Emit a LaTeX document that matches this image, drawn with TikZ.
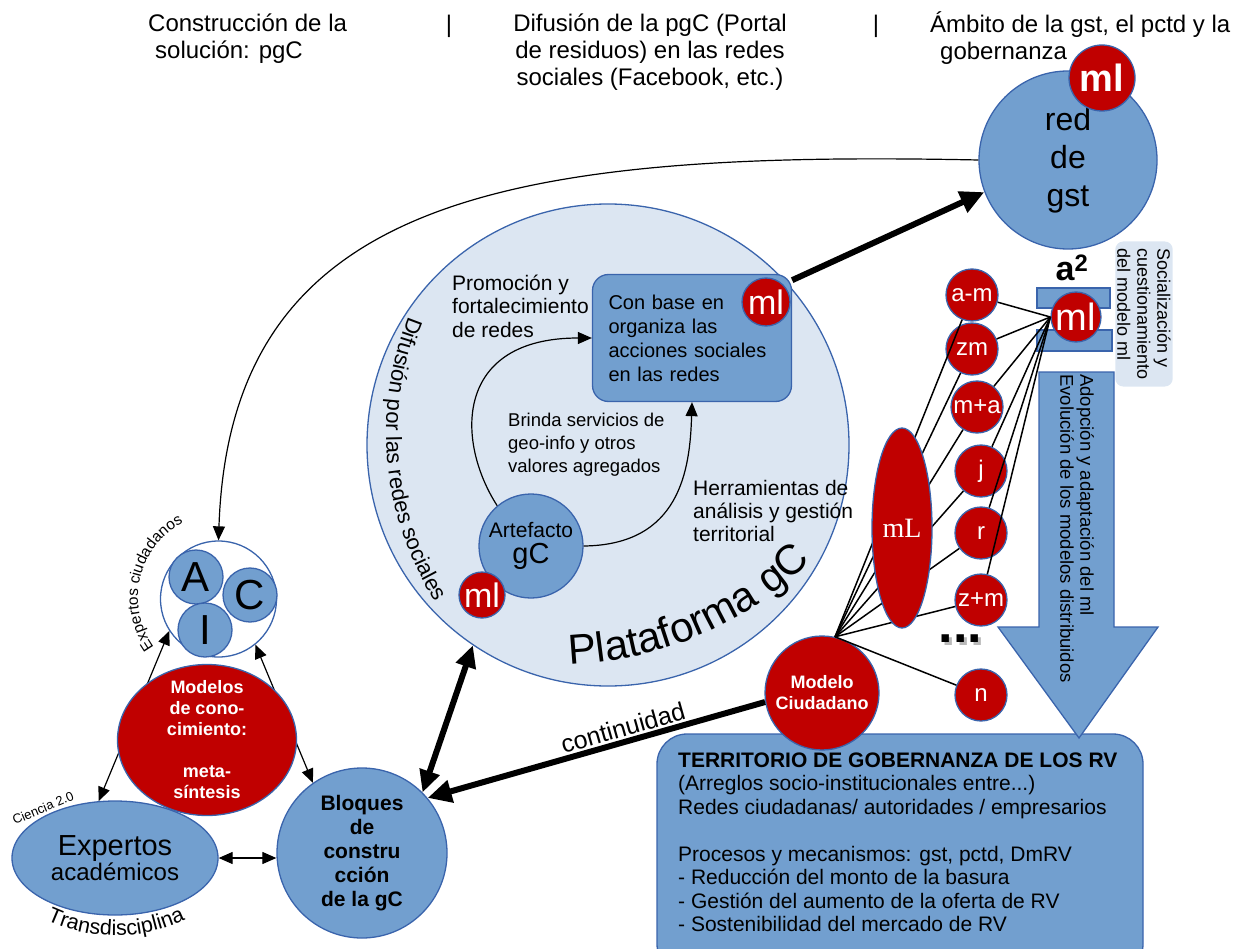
\documentclass[tikz,border=0pt]{standalone}
\usepackage{fontspec}
\setmainfont{Liberation Sans}
\newfontfamily\serifml{Liberation Serif}
\usetikzlibrary{shapes, arrows.meta, decorations.text}
\definecolor{mid}{RGB}{114, 159, 207}
\definecolor{edge}{RGB}{58, 100, 172}
\definecolor{pale}{RGB}{220, 230, 242}
\definecolor{dark}{RGB}{192, 0, 0}
\newcommand*{\fsz}[2]{\fontsize{#1}{#2}\selectfont}
\newcommand*{\lw}{1.3}

\begin{document}
\begin{tikzpicture}[
   x=1pt, y=1pt,
   bluecirc/.style={circle, draw=edge, fill=mid, line width=\lw, text=black,
                    inner sep=0, minimum size=#1},
   redcirc/.style={circle, draw=edge, fill=dark, line width=\lw, text=white,
                   inner sep=0, minimum size=#1},
   palecirc/.style={circle, draw=edge, fill=pale, line width=\lw,
                    inner sep=0, minimum size=#1},
   whitecirc/.style={circle, draw=edge, fill=white, line width=\lw,
                     inner sep=0, minimum size=#1},
   blueell/.style={ellipse, draw=edge, fill=mid, line width=\lw, text=black, inner sep=0},
   redell/.style={ellipse, draw=edge, fill=dark, line width=\lw, text=white, inner sep=0},
   bluebox/.style={rectangle, rounded corners=16, draw=edge, fill=mid, line width=\lw,
                   inner sep=0},
   bluebar/.style={draw=edge, fill=mid, line width=\lw},
   txt/.style={inner sep=0, align=left, text=black},
   thinarrow/.style={-{Triangle[length=14pt, width=12pt]}, line width=1.2},
   thinboth/.style={{Triangle[length=14pt, width=12pt]}-{Triangle[length=14pt, width=12pt]},
                    line width=1.2},
   fatarrow/.style={-{Triangle[length=24pt, width=22pt]}, line width=6},
   fatboth/.style={{Triangle[length=22pt, width=20pt]}-{Triangle[length=22pt, width=20pt]},
                   line width=6},
   fanline/.style={line width=1.5}
  ]

  \useasboundingbox (0, 0) rectangle (1238, -949);

  % Column titles
  \node (colsol) at (148, -38.5) [txt, anchor=west, font=\fsz{24}{27}] {Construcción de la\\\hspace*{7pt}solución: pgC};
  \node (sepa) at (449, -26) [txt, font=\fsz{24}{27}] {|};
  \node (coldif) at (650, -52) [txt, align=center, font=\fsz{24}{27}] {Difusión de la pgC (Portal\\de residuos) en las redes\\sociales (Facebook, etc.)};
  \node (sepb) at (876, -26) [txt, font=\fsz{24}{27}] {|};
  \node (colamb) at (930, -38.5) [txt, anchor=west, font=\fsz{24}{27}] {Ámbito de la gst, el pctd y la\\\hspace*{10pt}gobernanza};

  % Plataforma
  \node (plataforma) at (608, -445) [palecirc=482] {};
  \path[decorate, decoration={text along path, text={|\fsz{22}{24}|Difusión por las redes sociales}}]
    (408.7, -316.1) arc[start angle=158, end angle=225, radius=312];
  \path[decorate, decoration={text along path, text={|\fsz{42}{44}|Plataforma gC}}]
    (569.8, -664.7) arc[start angle=272.3, end angle=330, radius=369];

  \node (promocion) at (452, -306) [txt, anchor=west, font=\fsz{21}{23.5}] {Promoción y\\fortalecimiento\\de redes};
  \node (brinda) at (508, -445) [txt, anchor=west, font=\fsz{18.5}{23}] {Brinda servicios de\\geo-info y otros\\valores agregados};
  \node (herramientas) at (693, -511) [txt, anchor=west, font=\fsz{21}{23}] {Herramientas de\\análisis y gestión\\territorial};

  \node (conbase) at (692, -338) [bluebox, minimum width=199, minimum height=127, text width=167,
                                  align=left, font=\fsz{20}{24}] {Con base en\\organiza las\\acciones sociales\\en las redes};
  \node (mlbox) at (766, -302) [redcirc=48, font=\fsz{34}{34}] {ml};
  \node (artefacto) at (531, -546) [bluecirc=104, align=center] {\fsz{21}{24}Artefacto\\[5pt]\fsz{29}{24}gC};
  \node (mlart) at (482, -595) [redcirc=46, font=\fsz{34}{34}] {ml};

  \draw[thinarrow] (artefacto.130) .. controls (455, -440) and (455, -338) .. (conbase.west);
  \draw[thinarrow] (artefacto.east) .. controls (680, -545) and (690, -470) .. (conbase.south);

  % Left cluster
  \node (aic) at (218.5, -599) [whitecirc=116] {};
  \node (ca) at (196, -577) [bluecirc=54, font=\fsz{42}{42}] {A};
  \node (cc) at (250, -595) [bluecirc=54, font=\fsz{42}{42}] {C};
  \node (ci) at (205, -630) [bluecirc=54, font=\fsz{42}{42}] {I};
  \path[decorate, decoration={text along path, text={|\fsz{15.5}{17}|Expertos ciudadanos}}]
    (154, -647) arc[start angle=216, end angle=90, radius=84];

  \node (expertos) at (115, -858) [blueell, minimum width=206, minimum height=114, align=center]
    {\fsz{29}{30}Expertos\\\fsz{24}{30}académicos};
  \node (ciencia) at (43, -808) [txt, rotate=23, font=\fsz{13}{15}] {Ciencia 2.0};
  \path[decorate, decoration={text along path, text={|\fsz{21.5}{24}|Transdisciplina}}]
    (46.8, -920.4) arc[start angle=245, end angle=305, radius=162];

  \node (bloques) at (362, -853) [bluecirc=170, align=center, font=\bfseries\fsz{21}{24}]
    {Bloques\\de\\constru\\cción\\de la gC};

  \draw[thinboth] (expertos.106) -- (aic.213);
  \draw[thinboth] (aic.309) -- (bloques.125);
  \draw[thinboth] (expertos.east) -- (expertos.east -| bloques.west);

  \node (modelos) at (207, -740) [redell, minimum width=179, minimum height=151] {};
  \node (modelostxt) at (modelos.center) [txt, align=center, text=white, font=\bfseries\fsz{18}{21}]
    {Modelos\\de cono-\\cimiento:\\[21pt]meta-\\síntesis};

  % red de gst
  \node (redgst) at (1068, -160) [bluecirc=178, align=center, font=\fsz{32}{38}] {red\\de\\gst};
  \node (mlgst) at (1102, -78) [redcirc=66, font=\bfseries\fsz{38}{38}] {ml};

  \draw[thinarrow] (redgst.west) .. controls (500, -150) and (230, -200) .. (aic.north);
  \draw[fatarrow] (conbase.30) -- (redgst.201);
  \draw[fatboth] (bloques.45) -- (plataforma.236);

  % Territorio
  \node (territorio) at (900, -854) [bluebox, rounded corners=30, minimum width=486, minimum height=240] {};
  \node (territoriotxt) at (678, -842.5) [txt, anchor=west, font=\fsz{21}{23.5}]
    {\textbf{TERRITORIO DE GOBERNANZA DE LOS RV}\\(Arreglos socio-institucionales entre...)\\Redes ciudadanas/ autoridades / empresarios\\[23.5pt]Procesos y mecanismos: gst, pctd, DmRV\\- Reducción del monto de la basura\\- Gestión del aumento de la oferta de RV\\- Sostenibilidad del mercado de RV};

  \draw[bluebar] (1039, -372) -- (1114, -372) -- (1114, -627) -- (1158, -627) -- (1079, -738)
    -- (998, -627) -- (1039, -627) -- cycle;
  \node (adopcion) at (1077, -374) [txt, anchor=west, rotate=-90, font=\fsz{18.5}{20}]
    {Adopción y adaptación del ml\\Evolución de los modelos distribuidos};

  \node (socializacion) at (1144, -314) [txt, rotate=-90, fill=pale, rounded corners=8,
                                         inner xsep=7, inner ysep=2, font=\fsz{18}{20}]
    {Socialización y\\cuestionamiento\\del modelo ml};

  \draw[bluebar] (1037, -288) rectangle (1110, -308);
  \draw[bluebar] (1037, -330) rectangle (1112, -351);
  \node (aml) at (1076, -317) [redcirc=50, font=\fsz{38}{38}] {ml};
  \node (asq) at (1072, -268) [txt, font=\bfseries\fsz{34}{36}] {a\textsuperscript{2}};

  % Modelo ciudadano and distributed models
  \node (modelo) at (822, -693) [redcirc=114, align=center, font=\bfseries\fsz{18}{21}] {Modelo\\Ciudadano};

  \foreach \N/\T/\X/\Y in {cam/a-m/972/295, czm/zm/972/349, cmpa/m+a/977/407, cj/j/981/471,
                           cr/r/981/533, czpm/z+m/981/600, cn/n/981/695} {
    \node (\N) at (\X, -\Y) [redcirc=52, font=\fsz{24}{24}] {\T};
  }

  \node (dotsshadow) at (941.5, -645) [txt, anchor=base west, text=gray!55, font=\bfseries\fsz{52}{52}] {...};
  \node (dots) at (938.5, -642) [txt, anchor=base west, font=\bfseries\fsz{52}{52}] {...};

  \coordinate (hub) at (modelo.77);
  \foreach \E in {cam, czm, cmpa, cj, cr, czpm, cn} {
    \draw[fanline] (hub) -- (\E);
  }
  \foreach \E in {cam, czm, cmpa, cj, cr, czpm} {
    \draw[fanline] (aml.west) -- (\E);
  }

  \node (mL) at (902, -528) [redell, minimum width=60, minimum height=200, font=\serifml\fsz{28}{28}] {mL};

  \draw[fatarrow] (modelo.189) -- node[sloped, above, pos=0.41, font=\fsz{25}{26}, inner sep=2] {continuidad} (bloques.40);

\end{tikzpicture}
\end{document}
